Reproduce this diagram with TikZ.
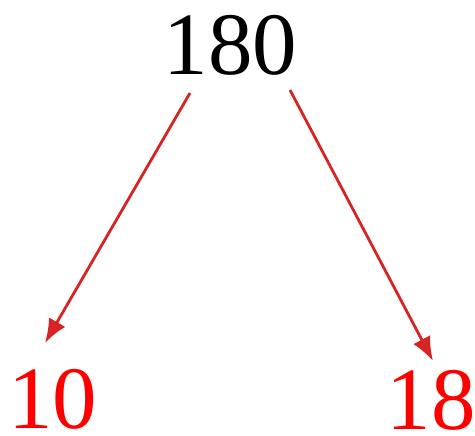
\documentclass[tikz,border=0pt]{standalone}
\usepackage{fontspec}
\setmainfont{Liberation Serif}
\usetikzlibrary{arrows.meta}
\definecolor{arrowred}{RGB}{215,35,35}
\tikzset{
  num/.style={inner sep=0pt, anchor=base, font=\fontsize{89}{89}\selectfont},
  arr/.style={draw=arrowred, line width=2.8pt, -{Latex[length=24pt,width=19pt]}}
}
\begin{document}
\begin{tikzpicture}[x=1pt,y=1pt]
\useasboundingbox (0,0) rectangle (475,436);
\node[num] (top) at (230.5,361) {180};
\node[num, text=red] (left) at (53,7) {10};
\node[num, text=red] (right) at (431,6) {18};
\coordinate (s1) at (190,343);
\coordinate (e1) at (45,93);
\coordinate (s2) at (290,346);
\coordinate (e2) at (433,75);
\draw[arr] (s1) -- (e1);
\draw[arr] (s2) -- (e2);
\end{tikzpicture}
\end{document}
